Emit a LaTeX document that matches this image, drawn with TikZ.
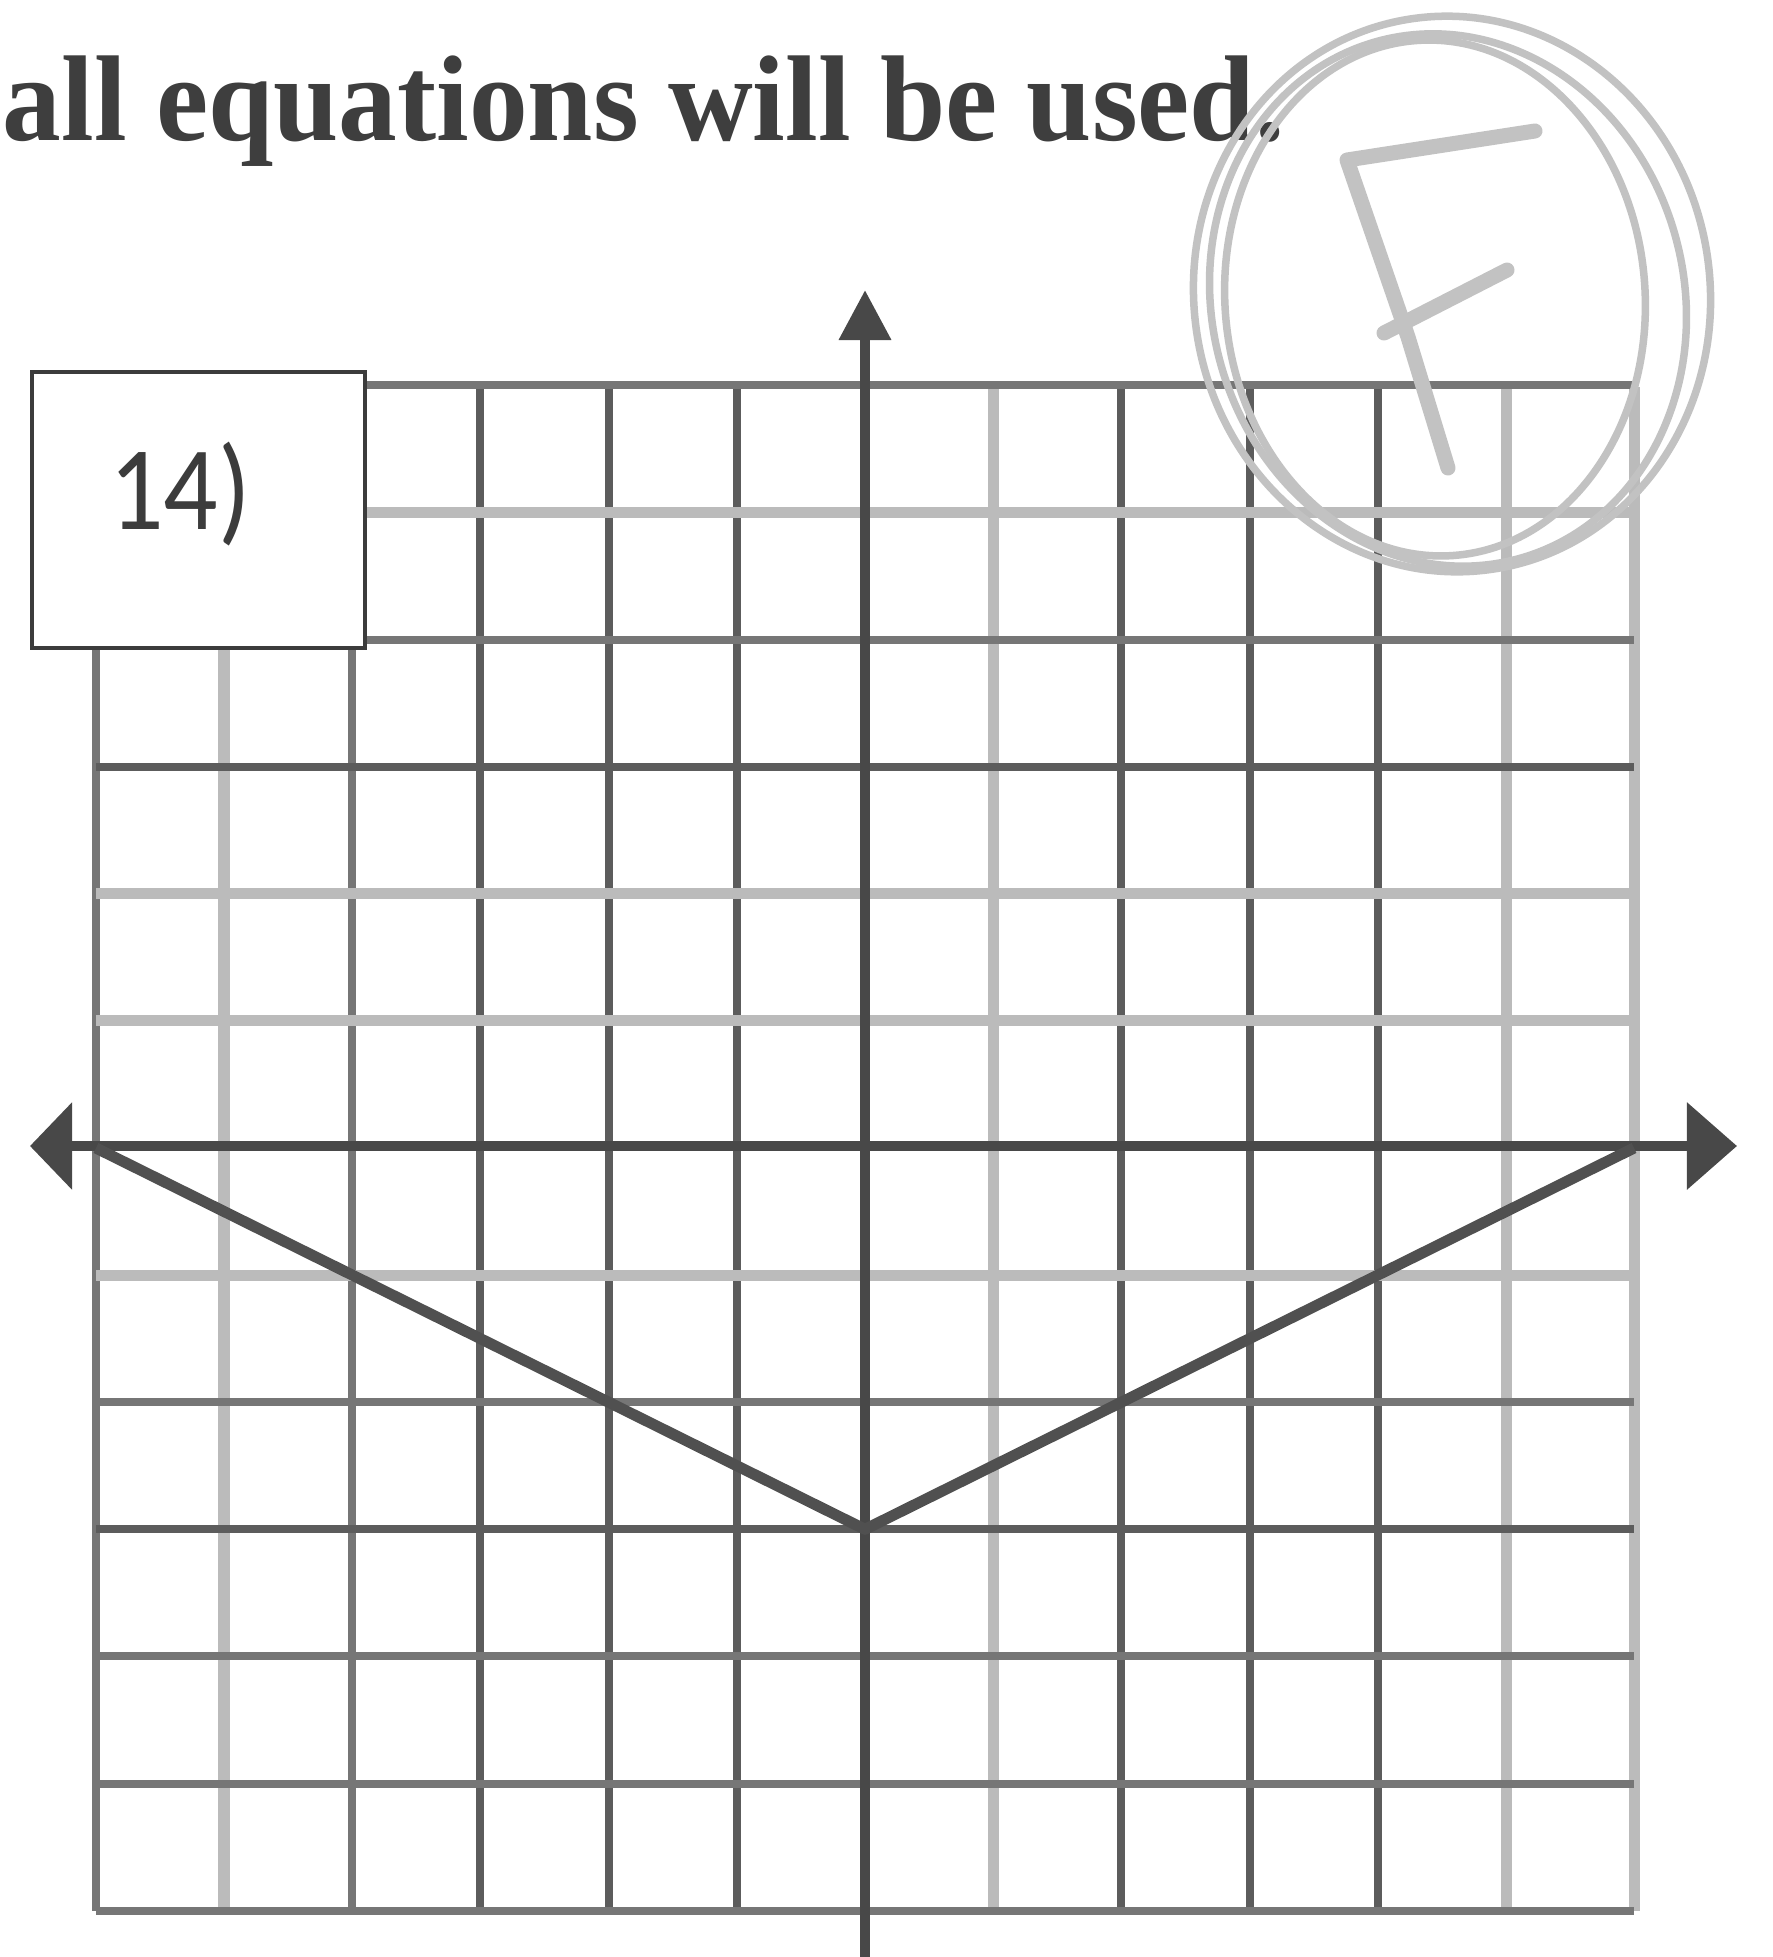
\documentclass[tikz,border=0pt]{standalone}
\usepackage{fontspec}
\setmainfont{Liberation Serif}
\newfontfamily\labelfont{Carlito}
\usetikzlibrary{arrows.meta}
\definecolor{gridDark}{HTML}{5C5C5C}
\definecolor{gridMid}{HTML}{767676}
\definecolor{gridLight}{HTML}{BBBBBB}
\definecolor{axisCol}{HTML}{484848}
\definecolor{graphCol}{HTML}{505050}
\definecolor{boxCol}{HTML}{3C3C3C}
\definecolor{textCol}{HTML}{3E3E3E}
\definecolor{gradeCol}{HTML}{C2C2C2}
\begin{document}
\begin{tikzpicture}[x=0.01cm,y=-0.01cm,
  gdark/.style={draw=gridDark,line width=0.08cm},
  gmid/.style={draw=gridMid,line width=0.08cm},
  glight/.style={draw=gridLight,line width=0.11cm},
  axisline/.style={draw=axisCol,line width=0.1cm},
  graphline/.style={draw=graphCol,line width=0.11cm,line join=round},
  xtip/.style={arrows={{Triangle[length=0.42cm,width=0.85cm]}-{Triangle[length=0.5cm,width=0.85cm]}}},
  ytip/.style={arrows={-{Triangle[length=0.5cm,width=0.5cm]}}},
  grade/.style={draw=gradeCol,line width=0.075cm},
  gradeF/.style={draw=gradeCol,line width=0.15cm,line cap=round,line join=round}]
\useasboundingbox (0,0) rectangle (1772,1957);
\fill[white] (0,0) rectangle (1772,1957);

% grid
\foreach \i/\s in {-6/gmid,-5/glight,-4/gmid,-3/gdark,-2/gdark,-1/gdark,1/glight,2/gdark,3/gdark,4/gdark,5/glight,6/glight}
  \draw[\s] ({865+128.2*\i},387) -- ({865+128.2*\i},1911);
\foreach \j/\s in {6/gmid,5/glight,4/gmid,3/gdark,2/glight,1/glight,-1/glight,-2/gmid,-3/gdark,-4/gmid,-5/gmid,-6/gmid}
  \draw[\s] (96,{1148-127.1*\j}) -- (1634,{1148-127.1*\j});

% axes
\coordinate (xL) at (30,1146);
\coordinate (xR) at (1737,1146);
\coordinate (yT) at (865,290);
\coordinate (yB) at (865,1957);
\draw[axisline,xtip] (xL) -- (xR);
\draw[axisline,ytip] (yB) -- (yT);

% graph y = |x|/2 - 3
\coordinate (gL) at (96,1148);
\coordinate (gV) at (865,1529.3);
\coordinate (gR) at (1634,1148);
\draw[graphline] (gL) -- (gV) -- (gR);

% label box
\node[draw=boxCol,line width=0.035cm,fill=white,minimum width=3.33cm,minimum height=2.76cm,inner sep=0] (box) at (198.5,510) {};
\node[inner sep=0,text=boxCol] (lbl) at (180,494) {\scalebox{0.9}[1]{\labelfont\fontsize{34pt}{40pt}\selectfont 14)}};

% header text
\node[anchor=base west,inner sep=0,text=textCol] (hdr) at (2,140) {\scalebox{0.962}[1]{\fontsize{34.7pt}{40pt}\selectfont\bfseries all equations will be used.}};

% grade mark
\draw[grade] (1452,294) ellipse [x radius=2.58cm,y radius=2.78cm,rotate=8];
\draw[grade] (1448,300) ellipse [x radius=2.36cm,y radius=2.68cm,rotate=15];
\draw[grade] (1435,298) ellipse [x radius=2.10cm,y radius=2.58cm,rotate=4];
\coordinate (fA) at (1535,131);
\coordinate (fB) at (1347,160);
\coordinate (fC) at (1408,337);
\coordinate (fD) at (1448,468);
\coordinate (fE) at (1384,333);
\coordinate (fG) at (1507,270);
\draw[gradeF] (fA) -- (fB) -- (fC) -- (fD);
\draw[gradeF] (fE) -- (fG);
\end{tikzpicture}
\end{document}
